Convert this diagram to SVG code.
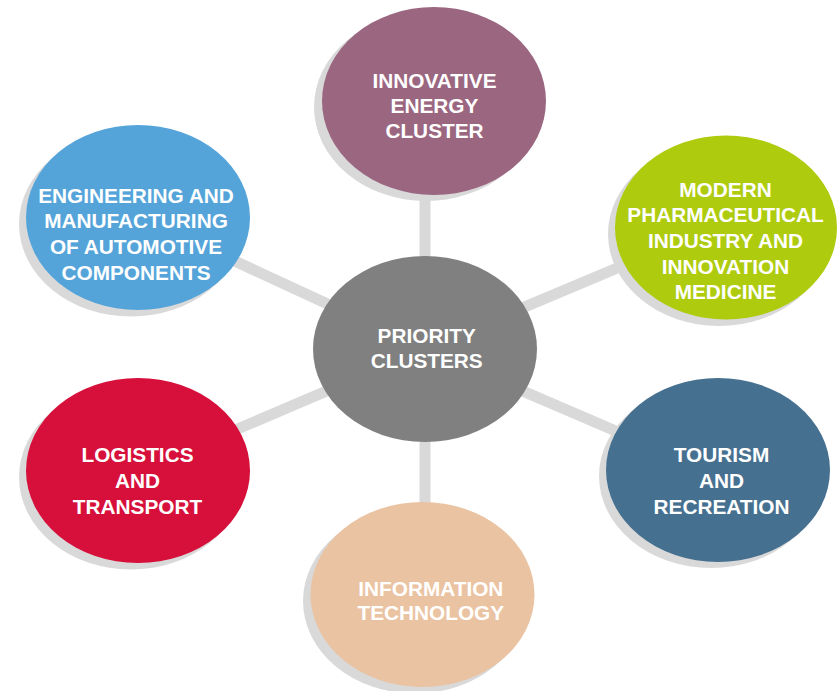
<svg xmlns="http://www.w3.org/2000/svg" width="840" height="691" viewBox="0 0 840 691">
<style>
.conn line{stroke:#D9D9D9;stroke-width:11}
.shadow{fill:#D9D9D9}
text{font-family:"Liberation Sans",Arial,sans-serif;font-weight:bold;font-size:20.8px;fill:#FFFFFF;text-anchor:middle}
</style>
<rect width="840" height="691" fill="#FFFFFF"/>
<g id="connectors" class="conn">
<line x1="425" y1="349" x2="425" y2="150"/>
<line x1="425" y1="349" x2="425" y2="540"/>
<line x1="425" y1="349" x2="200" y2="245"/>
<line x1="425" y1="349" x2="660" y2="250"/>
<line x1="425" y1="349" x2="200" y2="445"/>
<line x1="425" y1="349" x2="660" y2="450"/>
</g>
<g id="energy">
<ellipse class="shadow" cx="426" cy="107" rx="112" ry="94"/>
<ellipse cx="434" cy="101" rx="112" ry="94" fill="#9B6680"/>
<text x="434.5" y="88">INNOVATIVE</text>
<text x="434.5" y="113">ENERGY</text>
<text x="434.5" y="138">CLUSTER</text>
</g>
<g id="engineering">
<ellipse class="shadow" cx="131" cy="224" rx="112" ry="92.5"/>
<ellipse cx="138" cy="217.5" rx="112" ry="92.5" fill="#54A4DA"/>
<text x="136" y="202.5">ENGINEERING AND</text>
<text x="136" y="228.3">MANUFACTURING</text>
<text x="136" y="254">OF AUTOMOTIVE</text>
<text x="136" y="279.5">COMPONENTS</text>
</g>
<g id="pharma">
<ellipse class="shadow" cx="719" cy="234" rx="111" ry="92"/>
<ellipse cx="726" cy="227.5" rx="111" ry="92" fill="#AECB0E"/>
<text x="725.5" y="196.7">MODERN</text>
<text x="725.5" y="222.3">PHARMACEUTICAL</text>
<text x="725.5" y="248.3">INDUSTRY AND</text>
<text x="725.5" y="274">INNOVATION</text>
<text x="725.5" y="299.3">MEDICINE</text>
</g>
<g id="logistics">
<ellipse class="shadow" cx="131" cy="477" rx="112" ry="92.5"/>
<ellipse cx="138" cy="470.5" rx="112" ry="92.5" fill="#D6103B"/>
<text x="137.5" y="461.7">LOGISTICS</text>
<text x="137.5" y="488.3">AND</text>
<text x="137.5" y="514">TRANSPORT</text>
</g>
<g id="tourism">
<ellipse class="shadow" cx="711" cy="476" rx="112" ry="92"/>
<ellipse cx="718" cy="470" rx="112" ry="92" fill="#467090"/>
<text x="721.5" y="461.7">TOURISM</text>
<text x="721.5" y="488.3">AND</text>
<text x="721.5" y="514">RECREATION</text>
</g>
<g id="it">
<ellipse class="shadow" cx="415" cy="601" rx="112" ry="92.5"/>
<ellipse cx="422.5" cy="594.5" rx="112" ry="92.5" fill="#EAC3A2"/>
<text x="430.8" y="596">INFORMATION</text>
<text x="430.8" y="620">TECHNOLOGY</text>
</g>
<g id="center">
<ellipse cx="425" cy="349" rx="112" ry="93" fill="#808080"/>
<text x="426.7" y="343">PRIORITY</text>
<text x="426.7" y="368">CLUSTERS</text>
</g>
</svg>
